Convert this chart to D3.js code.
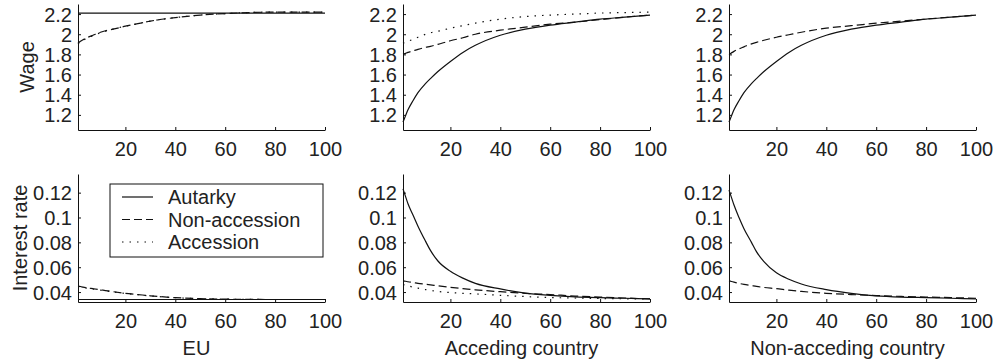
<!DOCTYPE html>
<html>
<head>
<meta charset="utf-8">
<script src="https://cdn.jsdelivr.net/npm/d3@7"></script>
<style>
  body { margin: 0; background: #fff; }
  svg { font-family: "Liberation Sans", Arial, sans-serif; }
  .axis path, .axis line { stroke: #111; stroke-width: 1; }
  .axis text { fill: #222; font-size: 20px; }
  .label { fill: #222; font-size: 20px; }
  .curve { fill: none; stroke: #111; stroke-width: 1.2; }
</style>
</head>
<body>
<script>
var periods = [1, 2, 3, 5, 7, 10, 12, 15, 20, 25, 30, 40, 50, 60, 70, 80, 90, 100];

// wage
var euWageAutarky    = [2.21, 2.21, 2.21, 2.21, 2.21, 2.21, 2.21, 2.21, 2.21, 2.21, 2.21, 2.21, 2.21, 2.21, 2.21, 2.21, 2.21, 2.21];
var euWageNonAcc     = [1.91, 1.93, 1.945, 1.97, 1.99, 2.02, 2.035, 2.05, 2.08, 2.105, 2.13, 2.165, 2.19, 2.205, 2.215, 2.22, 2.22, 2.22];
var euWageAcc        = [1.905, 1.925, 1.94, 1.965, 1.985, 2.015, 2.03, 2.05, 2.08, 2.105, 2.13, 2.165, 2.19, 2.205, 2.215, 2.22, 2.22, 2.22];
var accWageAutarky   = [1.13, 1.19, 1.25, 1.34, 1.42, 1.51, 1.56, 1.63, 1.73, 1.82, 1.89, 1.99, 2.05, 2.09, 2.12, 2.15, 2.17, 2.19];
var accWageNonAcc    = [1.80, 1.81, 1.82, 1.835, 1.85, 1.87, 1.88, 1.9, 1.935, 1.965, 2.0, 2.04, 2.07, 2.1, 2.12, 2.145, 2.17, 2.19];
var accWageAcc       = [1.91, 1.92, 1.93, 1.95, 1.97, 2.0, 2.015, 2.03, 2.06, 2.085, 2.11, 2.15, 2.175, 2.19, 2.2, 2.21, 2.215, 2.22];
var nonWageAutarky   = [1.13, 1.19, 1.25, 1.34, 1.42, 1.51, 1.56, 1.63, 1.73, 1.82, 1.89, 1.99, 2.05, 2.09, 2.12, 2.15, 2.17, 2.19];
var nonWageNonAcc    = [1.80, 1.815, 1.83, 1.855, 1.875, 1.905, 1.92, 1.94, 1.97, 1.995, 2.02, 2.06, 2.085, 2.11, 2.13, 2.15, 2.17, 2.19];

// interest rate
var euRateAutarky    = [0.034, 0.034, 0.034, 0.034, 0.034, 0.034, 0.034, 0.034, 0.034, 0.034, 0.034, 0.034, 0.034, 0.034, 0.034, 0.034, 0.034, 0.034];
var euRateNonAcc     = [0.0448, 0.0445, 0.044, 0.0433, 0.0427, 0.0418, 0.0412, 0.0403, 0.039, 0.038, 0.037, 0.0355, 0.0347, 0.0343, 0.0341, 0.034, 0.034, 0.034];
var euRateAcc        = [0.0445, 0.0442, 0.0437, 0.043, 0.0424, 0.0415, 0.041, 0.0401, 0.0389, 0.0379, 0.0369, 0.0355, 0.0347, 0.0343, 0.0341, 0.034, 0.034, 0.034];
var accRateAutarky   = [0.123, 0.117, 0.111, 0.102, 0.093, 0.081, 0.0735, 0.065, 0.0567, 0.0512, 0.047, 0.0425, 0.0392, 0.0374, 0.0362, 0.0355, 0.035, 0.0345];
var accRateNonAcc    = [0.049, 0.0487, 0.0483, 0.0477, 0.047, 0.0463, 0.0458, 0.045, 0.0438, 0.0428, 0.0418, 0.0403, 0.039, 0.038, 0.0368, 0.036, 0.0352, 0.0345];
var accRateAcc       = [0.046, 0.0455, 0.045, 0.044, 0.0432, 0.042, 0.0413, 0.0405, 0.0396, 0.039, 0.0385, 0.0374, 0.0364, 0.0356, 0.0352, 0.0348, 0.0346, 0.0345];
var nonRateAutarky   = [0.122, 0.116, 0.110, 0.1, 0.091, 0.080, 0.0725, 0.0645, 0.0555, 0.0503, 0.0465, 0.042, 0.039, 0.037, 0.036, 0.0355, 0.035, 0.0345];
var nonRateNonAcc    = [0.049, 0.0485, 0.048, 0.047, 0.0462, 0.0452, 0.0445, 0.0437, 0.0427, 0.0415, 0.0405, 0.039, 0.038, 0.0372, 0.0365, 0.036, 0.0355, 0.035];

// ticks
var xTicks = [20, 40, 60, 80, 100];
var wageTicks = [1.2, 1.4, 1.6, 1.8, 2, 2.2];
var wageTickLabels = ["1.2", "1.4", "1.6", "1.8", "2", "2.2"];
var rateTicks = [0.04, 0.06, 0.08, 0.1, 0.12];
var rateTickLabels = ["0.04", "0.06", "0.08", "0.1", "0.12"];

var columnTitles = ["EU", "Acceding country", "Non-acceding country"];
var legendNames = ["Autarky", "Non-accession", "Accession"];
var dashes = { autarky: null, nonacc: "8,4", acc: "1.5,6" };

var width = 998, height = 360;
var colLeft = [78, 403, 729];
var plotW = 247;
var rowTop = [4, 174];
var plotH = [126, 128];

var svg = d3.select('body')
	.append('svg')
	.attr('width', width)
	.attr('height', height);

var xScale = d3.scaleLinear().domain([1, 100]).range([0, plotW]);

var yScales = [
	d3.scaleLinear().domain([1.05, 2.3]).range([plotH[0], 0]),
	d3.scaleLinear().domain([0.032, 0.135]).range([plotH[1], 0])
];

var panels = [
	[ [euWageAutarky, 'autarky'], [euWageAcc, 'acc'], [euWageNonAcc, 'nonacc'] ],
	[ [accWageAutarky, 'autarky'], [accWageNonAcc, 'nonacc'], [accWageAcc, 'acc'] ],
	[ [nonWageAutarky, 'autarky'], [nonWageNonAcc, 'nonacc'] ],
	[ [euRateAutarky, 'autarky'], [euRateAcc, 'acc'], [euRateNonAcc, 'nonacc'] ],
	[ [accRateAutarky, 'autarky'], [accRateNonAcc, 'nonacc'], [accRateAcc, 'acc'] ],
	[ [nonRateAutarky, 'autarky'], [nonRateNonAcc, 'nonacc'] ]
];

for (var p = 0; p < 6; p++) {
	var row = Math.floor(p / 3), col = p % 3;
	var yScale = yScales[row];

	var g = svg.append('g')
		.attr('transform', 'translate(' + colLeft[col] + ',' + rowTop[row] + ')');

	var line = d3.line()
		.x(function(d){ return xScale(d[0]); })
		.y(function(d){ return yScale(d[1]); })
		.curve(d3.curveMonotoneX);

	panels[p].forEach(function(s){
		var pts = periods.map(function(t, i){ return [t, s[0][i]]; });
		g.append('path')
			.attr('class', 'curve')
			.attr('d', line(pts))
			.attr('stroke-dasharray', dashes[s[1]]);
	});

	// x axis, ticks point inward like matlab
	var xAxis = d3.axisBottom(xScale)
		.tickValues(xTicks)
		.tickSizeInner(-3)
		.tickSizeOuter(0)
		.tickPadding(12)
		.tickFormat(d3.format('d'));

	g.append('g')
		.attr('class', 'x axis')
		.attr('transform', 'translate(0,' + plotH[row] + ')')
		.call(xAxis);

	var ticks = row === 0 ? wageTicks : rateTicks;
	var labels = row === 0 ? wageTickLabels : rateTickLabels;
	var yAxis = d3.axisLeft(yScale)
		.tickValues(ticks)
		.tickSizeInner(-3)
		.tickSizeOuter(0)
		.tickPadding(6)
		.tickFormat(function(d, i){ return labels[i]; });

	g.append('g')
		.attr('class', 'y axis')
		.call(yAxis);

	if (row === 1) {
		svg.append('text')
			.attr('class', 'label')
			.attr('x', colLeft[col] + plotW / 2 - 5)
			.attr('y', 355)
			.attr('text-anchor', 'middle')
			.text(columnTitles[col]);
	}
}

svg.selectAll('.axis text').attr('dy', null);
svg.selectAll('.x.axis text').attr('dy', '0.71em');
svg.selectAll('.y.axis text').attr('dy', '0.35em');

// y labels
svg.append('text')
	.attr('class', 'label')
	.attr('transform', 'translate(34,67) rotate(-90)')
	.attr('text-anchor', 'middle')
	.text('Wage');

svg.append('text')
	.attr('class', 'label')
	.attr('transform', 'translate(27,238) rotate(-90)')
	.attr('text-anchor', 'middle')
	.text('Interest rate');

// legend in the lower left panel
var legend = svg.append('g').attr('transform', 'translate(110,184)');
legend.append('rect')
	.attr('width', 213)
	.attr('height', 73)
	.attr('fill', '#fff')
	.attr('stroke', '#111');

var legendKeys = ['autarky', 'nonacc', 'acc'];
legendNames.forEach(function(name, i){
	var ly = 13 + i * 22.5;
	legend.append('line')
		.attr('class', 'curve')
		.attr('x1', 12).attr('x2', 43)
		.attr('y1', ly).attr('y2', ly)
		.attr('stroke-dasharray', dashes[legendKeys[i]]);
	legend.append('text')
		.attr('class', 'label')
		.attr('x', 58)
		.attr('y', ly)
		.attr('dy', '0.35em')
		.text(name);
});
</script>
</body>
</html>
